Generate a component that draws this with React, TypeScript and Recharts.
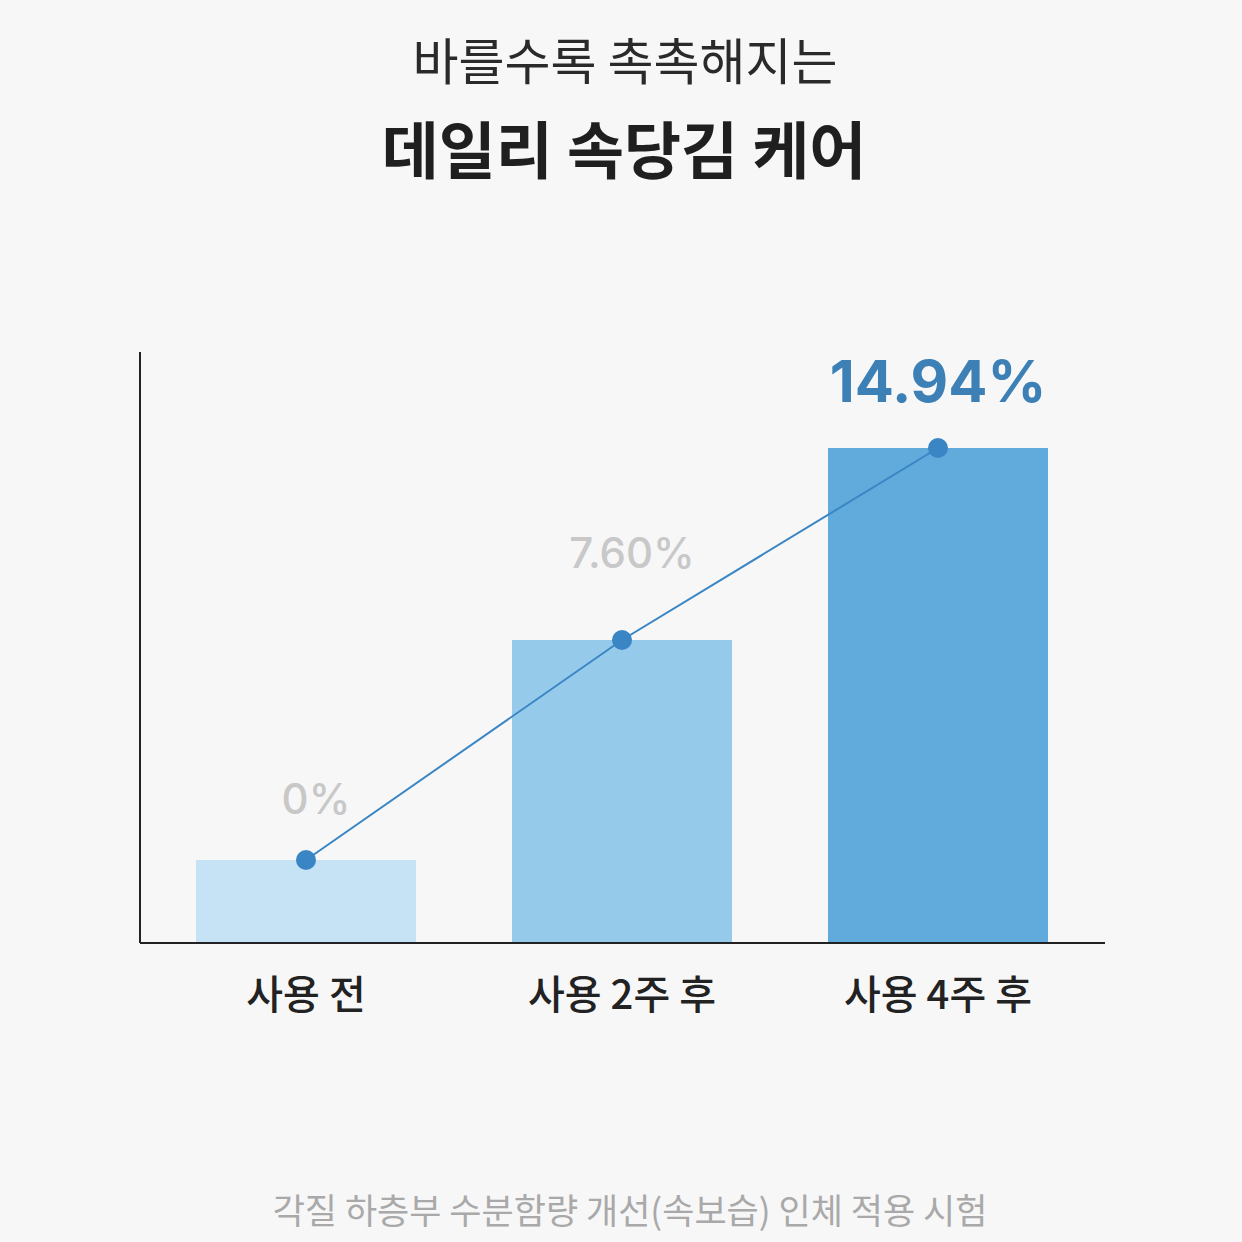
import React from 'react';
import { ComposedChart, Bar, Line, XAxis, YAxis, Cell, LabelList } from 'recharts';

const categories = ['사용 전', '사용 2주 후', '사용 4주 후'];
const barHeights = [0.83, 3.03, 4.95];
const valueLabels = ['0%', '7.60%', '14.94%'];

const barColors = ['#c6e3f6', '#96caeb', '#60aadc'];
const labelStyles = [
  { fill: '#c8c8c8', size: 42, weight: 500, lift: 46, dx: 10 },
  { fill: '#c8c8c8', size: 42, weight: 500, lift: 72, dx: 10 },
  { fill: '#3d80b6', size: 58, weight: 700, lift: 46, dx: 0 },
];

const data = categories.map((name, i) => ({
  name,
  value: barHeights[i],
  label: valueLabels[i],
}));

const font = '"Noto Sans CJK KR", "Noto Sans", sans-serif';

function ValueLabel(props: any) {
  const { x, y, width, index, value } = props;
  const s = labelStyles[index];
  return (
    <text
      x={x + width / 2 + s.dx}
      y={y - s.lift}
      textAnchor="middle"
      fill={s.fill}
      fontSize={s.size}
      fontWeight={s.weight}
      fontFamily="Inter, sans-serif"
    >
      {value}
    </text>
  );
}

export default function App() {
  return (
    <div style={{ position: 'relative', width: 1242, height: 1242, background: '#f7f7f8', fontFamily: font }}>
      <style>{`body{margin:0}`}</style>
      <div style={{ position: 'absolute', top: 22, left: 0, width: 1250, textAlign: 'center', fontSize: 50, color: '#2a2a2a', fontWeight: 400 }}>
        바를수록 촉촉해지는
      </div>
      <div style={{ position: 'absolute', top: 102, left: 0, width: 1248, textAlign: 'center', fontSize: 62, color: '#1f1f1f', fontWeight: 700 }}>
        데일리 속당김 케어
      </div>
      <div style={{ position: 'absolute', top: 0, left: 0 }}>
        <ComposedChart
          width={1242}
          height={1242}
          data={data}
          margin={{ top: 352, right: 137, bottom: 269, left: 139 }}
        >
          <XAxis
            dataKey="name"
            padding={{ left: 8, right: 9 }}
            axisLine={{ stroke: '#222', strokeWidth: 2 }}
            tickLine={false}
            tick={{ fill: '#222', fontSize: 40, fontWeight: 500, fontFamily: font }}
            tickMargin={32}
            interval={0}
          />
          <YAxis
            width={1}
            domain={[0, 5.91]}
            tick={false}
            tickLine={false}
            axisLine={{ stroke: '#222', strokeWidth: 2 }}
          />
          <Bar dataKey="value" barSize={220} isAnimationActive={false}>
            {data.map((d, i) => (
              <Cell key={d.name} fill={barColors[i]} />
            ))}
            <LabelList dataKey="label" content={<ValueLabel />} />
          </Bar>
          <Line
            type="linear"
            dataKey="value"
            stroke="#3a86c4"
            strokeWidth={2}
            dot={{ r: 10, fill: '#3a86c4', stroke: 'none' }}
            activeDot={false}
            isAnimationActive={false}
          />
        </ComposedChart>
      </div>
      <div style={{ position: 'absolute', top: 1183, left: 0, width: 1260, textAlign: 'center', fontSize: 35, color: '#a9a9a9' }}>
        각질 하층부 수분함량 개선(속보습) 인체 적용 시험
      </div>
    </div>
  );
}
